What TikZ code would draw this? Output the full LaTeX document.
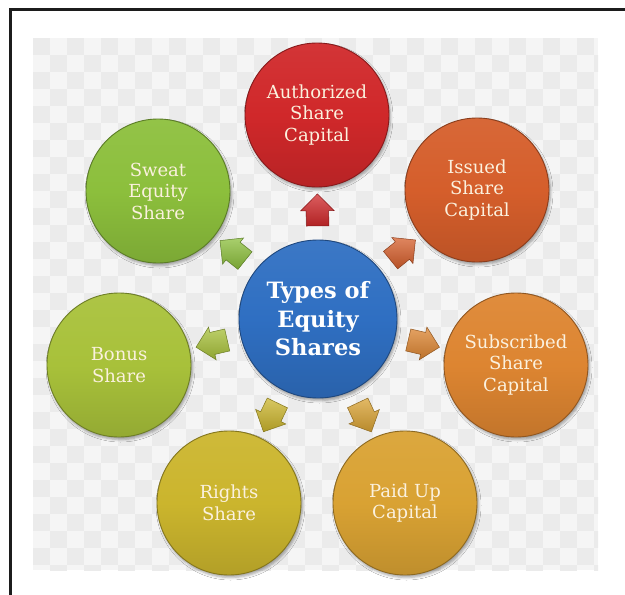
\documentclass[tikz,border=0pt]{standalone}
\usepackage{fontspec}
\setmainfont{DejaVu Serif}
\usetikzlibrary{shapes.arrows,shadows.blur}
\definecolor{chkL}{HTML}{F5F5F5}
\definecolor{chkD}{HTML}{EBEBEB}
\definecolor{framec}{HTML}{1C1C1C}
\definecolor{creamc}{HTML}{FBF1DE}
\definecolor{bluec}{HTML}{2F6FC2}
\definecolor{redc}{HTML}{D0282A}
\definecolor{issuedc}{HTML}{D55E2B}
\definecolor{subc}{HTML}{DD8531}
\definecolor{paidc}{HTML}{D9A233}
\definecolor{rightsc}{HTML}{CBB52D}
\definecolor{bonusc}{HTML}{A8C13A}
\definecolor{sweatc}{HTML}{8CBF3C}
\newcommand{\satfont}{\fontsize{18}{21.5}\selectfont}
\newcommand{\cenfont}{\fontsize{22.5}{28.5}\selectfont\bfseries}
\tikzset{
  bubble/.style={circle, minimum size=144pt, inner sep=0pt, draw=#1!65!black,
    line width=0.9pt, top color=#1!94!white, bottom color=#1!88!black,
    middle color=#1, text=creamc, align=center, font=\satfont,
    blur shadow={shadow xshift=1.5pt, shadow yshift=-2.5pt,
      shadow blur radius=2.5pt, shadow opacity=35}},
  centerbubble/.style={bubble=#1, minimum size=158pt, font=\cenfont,
    text=white},
  arrowshape/.style={single arrow, draw=#1!65!black, line width=0.5pt,
    top color=#1!75!white, bottom color=#1!85!black,
    minimum height=32pt, minimum width=0pt, inner xsep=0pt, inner ysep=11pt,
    text height=0pt, text depth=0pt, text width=0pt,
    single arrow head extend=5.5pt, single arrow tip angle=90,
    sloped, allow upside down, pos=0.507}
}
\begin{document}
\begin{tikzpicture}[x=1pt,y=-1pt]
\useasboundingbox (0,0) rectangle (625,595);
\fill[white] (0,0) rectangle (625,595);
% checkered background
\begin{scope}
  \clip (33,38) rectangle (598,570);
  \fill[chkL] (33,38) rectangle (598,570);
  \foreach \i in {0,2,...,34} {
    \foreach \j in {0,2,...,32} {
      \fill[chkD] ({33+\i*17},{38+\j*17}) rectangle ++(17,17);
      \fill[chkD] ({33+(\i+1)*17},{38+(\j+1)*17}) rectangle ++(17,17);
    }
  }
\end{scope}
% frame
\draw[framec, line width=2.5pt] (10.5,595) -- (10.5,9.5) -- (625,9.5);
% nodes
\node[centerbubble=bluec] (c) at (318,319) {Types of\\Equity\\Shares};
\node[bubble=redc] (auth) at (317,115) {Authorized\\Share\\Capital};
\node[bubble=issuedc] (iss) at (477,190) {Issued\\Share\\Capital};
\node[bubble=subc] (sub) at (516,365) {Subscribed\\Share\\Capital};
\node[bubble=paidc] (paid) at (405,503) {Paid Up\\Capital};
\node[bubble=rightsc] (rights) at (229,503) {Rights\\Share};
\node[bubble=bonusc] (bonus) at (119,365) {Bonus\\Share};
\node[bubble=sweatc] (sweat) at (158,191) {Sweat\\Equity\\Share};
% arrows
\path (c.center) -- (auth.center) node[arrowshape=redc] (a1) {};
\path (c.center) -- (iss.center) node[arrowshape=issuedc] (a2) {};
\path (c.center) -- (sub.center) node[arrowshape=subc] (a3) {};
\path (c.center) -- (paid.center) node[arrowshape=paidc] (a4) {};
\path (c.center) -- (rights.center) node[arrowshape=rightsc] (a5) {};
\path (c.center) -- (bonus.center) node[arrowshape=bonusc] (a6) {};
\path (c.center) -- (sweat.center) node[arrowshape=sweatc] (a7) {};
\end{tikzpicture}
\end{document}
